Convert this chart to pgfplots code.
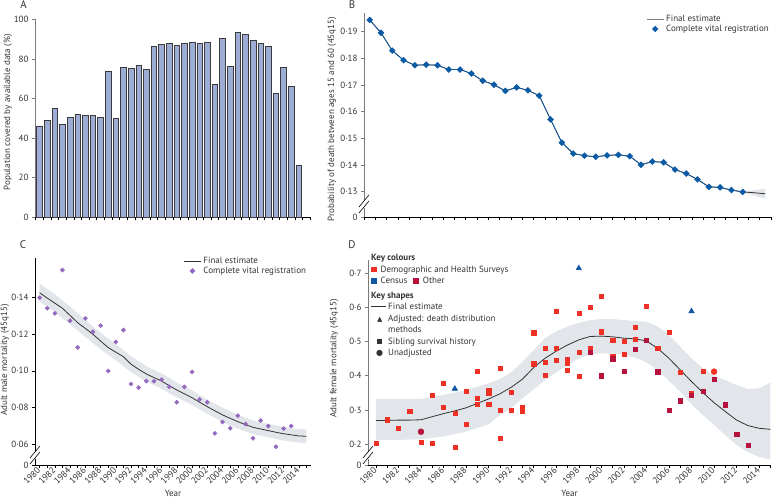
\documentclass[border=0pt]{standalone}
\usepackage{pgfplots}
\pgfplotsset{compat=1.18}
\usepackage{fontspec}
\setmainfont{PT Sans}
\newfontfamily\sym{DejaVu Sans}
\definecolor{barfill}{HTML}{9DADD6}
\definecolor{barline}{HTML}{3C3C3C}
\definecolor{vrblue}{HTML}{0B5AA6}
\definecolor{vrpurple}{HTML}{9468BE}
\definecolor{band}{HTML}{E2E6EB}
\definecolor{est}{HTML}{333333}
\definecolor{dhs}{HTML}{EE3124}
\definecolor{census}{HTML}{0F57A3}
\definecolor{other}{HTML}{B5123E}
\definecolor{axisgray}{HTML}{7A7A7A}
\definecolor{txt}{HTML}{333333}

\pgfplotsset{
  every axis/.append style={
    scale only axis,
    anchor=south west,
    axis x line*=bottom, axis y line*=left,
    tick align=outside,
    major tick length=3pt, minor tick length=3pt,
    tick style={line width=0.6pt, color=black},
    axis line style={line width=0.6pt},
    tick label style={font=\fontsize{9}{10}\selectfont, color=txt},
    label style={font=\fontsize{9}{10}\selectfont, color=txt},
    clip=false,
    /pgf/number format/assume math mode=true,
    /pgf/number format/1000 sep={},
  },
}
\newcommand\ybrk[1]{%
  \fill[white] ([xshift=-1.5pt,yshift=-4pt]#1) rectangle ([xshift=1.5pt,yshift=4pt]#1);
  \draw[line width=0.6pt] ([xshift=-5pt,yshift=-9pt]#1) -- ([xshift=5pt,yshift=3pt]#1);
  \draw[line width=0.6pt] ([xshift=-5pt,yshift=-3pt]#1) -- ([xshift=5pt,yshift=9pt]#1);
}
\newcommand\lsym[1]{\makebox[17pt][c]{#1}}

\begin{document}
\begin{tikzpicture}
\useasboundingbox (0,0) rectangle (772pt,499pt);

% ---------------- Panel A ----------------
\begin{axis}[at={(35pt,282pt)}, width=276pt, height=197.5pt,
  xmin=1979.4, xmax=2015.6, ymin=0, ymax=100,
  xtick={1979.5,1980.5,...,2015.5}, xticklabels={},
  ytick={0,20,40,60,80,100},
  y axis line style={color=axisgray}, ytick style={color=axisgray},
  ylabel={Population covered by available data (\%)},
  ylabel style={at={(axis description cs:-0.098,0.53)}, anchor=center},
]
\addplot[ybar, bar width=5.6pt, fill=barfill, draw=barline, line width=0.6pt] coordinates {
(1980,46.1)(1981,49.0)(1982,55.0)(1983,47.0)(1984,50.5)(1985,52.0)(1986,51.5)(1987,51.5)
(1988,50.5)(1989,73.6)(1990,50.0)(1991,75.6)(1992,75.3)(1993,76.8)(1994,74.7)(1995,86.2)
(1996,87.4)(1997,88.0)(1998,86.7)(1999,88.2)(2000,88.4)(2001,88.0)(2002,88.4)(2003,67.3)
(2004,90.4)(2005,76.3)(2006,93.4)(2007,92.3)(2008,89.4)(2009,87.9)(2010,86.2)(2011,62.6)
(2012,75.8)(2013,66.2)(2014,26.1)};
\end{axis}

% ---------------- Panel B ----------------
\begin{axis}[at={(364pt,282pt)}, width=407pt, height=204pt,
  xmin=1979.5, xmax=2015.5, ymin=0.1205, ymax=0.197,
  xtick={1979.5,1980.5,...,2015.5}, xticklabels={},
  ytick={0.1205,0.13,0.14,0.15,0.16,0.17,0.18,0.19},
  yticklabels={0,0·13,0·14,0·15,0·16,0·17,0·18,0·19},
  y axis line style={color=axisgray}, ytick style={color=axisgray},
  ylabel={Probability of death between ages 15 and 60 (45q15)},
  ylabel style={at={(axis description cs:-0.079,0.48)}, anchor=center},
  legend style={draw=none, fill=none, at={(1,1.0)}, anchor=north east,
    font=\fontsize{9}{10}\selectfont, text=txt, row sep=-2pt, inner sep=0pt},
  legend cell align=left,
]
\addplot[fill=band, draw=none, forget plot] coordinates {
(2012,0.1306)(2013,0.1301)(2014,0.1306)(2015,0.1311)(2015,0.1273)(2014,0.1286)(2013,0.1297)(2012,0.1306)} -- cycle;
\addplot[est, line width=0.8pt, forget plot] coordinates {
(1980,.1944)(1981,.1896)(1982,.1829)(1983,.1793)(1984,.1774)(1985,.1776)(1986,.1774)(1987,.1758)
(1988,.1758)(1989,.1743)(1990,.1716)(1991,.1701)(1992,.1678)(1993,.1691)(1994,.1680)(1995,.1660)
(1996,.1571)(1997,.1484)(1998,.1443)(1999,.1435)(2000,.1431)(2001,.1436)(2002,.1438)(2003,.1433)
(2004,.1401)(2005,.1413)(2006,.1410)(2007,.1383)(2008,.1368)(2009,.1346)(2010,.1318)(2011,.1316)
(2012,.1306)(2013,.1299)(2014,.1296)(2015,.1292)};
\addplot[vrblue, line width=0.7pt, mark=square*, mark size=2pt, mark options={rotate=45, fill=vrblue, draw=vrblue}, forget plot] coordinates {
(1980,.1944)(1981,.1896)(1982,.1829)(1983,.1793)(1984,.1774)(1985,.1776)(1986,.1774)(1987,.1758)
(1988,.1758)(1989,.1743)(1990,.1716)(1991,.1701)(1992,.1678)(1993,.1691)(1994,.1680)(1995,.1660)
(1996,.1571)(1997,.1484)(1998,.1443)(1999,.1435)(2000,.1431)(2001,.1436)(2002,.1438)(2003,.1433)
(2004,.1401)(2005,.1413)(2006,.1410)(2007,.1383)(2008,.1368)(2009,.1346)(2010,.1318)(2011,.1316)
(2012,.1306)(2013,.1299)};
\addlegendimage{axisgray, line width=0.9pt}
\addlegendentry{Final estimate}
\addlegendimage{only marks, mark=square*, mark size=2pt, mark options={rotate=45, fill=vrblue, draw=vrblue}}
\addlegendentry{Complete vital registration}
\coordinate (brkB) at (axis cs:1979.5,0.1254);
\end{axis}
\ybrk{brkB}

% ---------------- Panel C ----------------
\begin{axis}[at={(35pt,34pt)}, width=276pt, height=207pt,
  xmin=1979.4, xmax=2015.6, ymin=0.0485, ymax=0.1617,
  xtick={1980,1982,...,2014}, minor xtick={1981,1983,...,2015},
  xticklabel style={rotate=45, anchor=east, inner sep=1pt},
  ytick={0.0485,0.06,0.08,0.10,0.12,0.14},
  yticklabels={0,0·06,0·08,0·10,0·12,0·14},
  xlabel={Year},
  ylabel={Adult male mortality (45q15)},
  ylabel style={at={(axis description cs:-0.109,0.507)}, anchor=center},
  legend style={draw=none, fill=none, at={(0.99,1.015)}, anchor=north east,
    font=\fontsize{9}{10}\selectfont, text=txt, row sep=-2pt, inner sep=0pt},
  legend cell align=left,
]
\addplot[fill=band, draw=none, forget plot] coordinates {
(1980,.1477)(1982,.1419)(1984,.1351)(1986,.1278)(1988,.1208)(1990,.1146)(1992,.1079)(1994,.1025)
(1996,.0986)(1998,.0936)(2000,.0893)(2002,.0843)(2004,.0798)(2006,.0760)(2008,.0728)(2010,.0710)
(2012,.0693)(2014,.0681)(2015,.0679)
(2015,.0605)(2014,.0607)(2012,.0619)(2010,.0636)(2008,.0654)(2006,.0684)(2004,.0720)(2002,.0765)
(2000,.0813)(1998,.0854)(1996,.0902)(1994,.0941)(1992,.0993)(1990,.1058)(1988,.1118)(1986,.1186)
(1984,.1255)(1982,.1321)(1980,.1377)} -- cycle;
\addplot[est, line width=0.8pt, forget plot] coordinates {
(1980,.1427)(1981,.1398)(1982,.1370)(1983,.1342)(1984,.1303)(1985,.1263)(1986,.1232)(1987,.1200)
(1988,.1163)(1989,.1127)(1990,.1102)(1991,.1077)(1992,.1036)(1993,.1008)(1994,.0983)(1995,.0963)
(1996,.0944)(1997,.0919)(1998,.0895)(1999,.0874)(2000,.0853)(2001,.0828)(2002,.0804)(2003,.0781)
(2004,.0759)(2005,.0740)(2006,.0722)(2007,.0706)(2008,.0691)(2009,.0682)(2010,.0673)(2011,.0664)
(2012,.0656)(2013,.0650)(2014,.0644)(2015,.0642)};
\addplot[only marks, mark=square*, mark size=1.5pt, mark options={rotate=45, fill=vrpurple, draw=vrpurple}, forget plot] coordinates {
(1980,.1400)(1981,.1342)(1982,.1314)(1983,.1551)(1984,.1274)(1985,.1128)(1986,.1287)(1987,.1214)
(1988,.1247)(1989,.0999)(1990,.1158)(1991,.1223)(1992,.0928)(1993,.0908)(1994,.0944)(1995,.0943)
(1996,.0952)(1997,.0913)(1998,.0828)(1999,.0912)(2000,.0994)(2001,.0844)(2002,.0828)(2003,.0658)
(2004,.0720)(2005,.0686)(2006,.0755)(2007,.0709)(2008,.0631)(2009,.0728)(2010,.0698)(2011,.0585)
(2012,.0684)(2013,.0698)};
\addlegendimage{est, line width=0.9pt}
\addlegendentry{Final estimate}
\addlegendimage{only marks, mark=square*, mark size=1.8pt, mark options={rotate=45, fill=vrpurple, draw=vrpurple}}
\addlegendentry{Complete vital registration}
\coordinate (brkC) at (axis cs:1979.4,0.054);
\end{axis}
\ybrk{brkC}

% ---------------- Panel D ----------------
\begin{axis}[at={(368pt,34pt)}, width=403pt, height=205pt,
  xmin=1979.3, xmax=2015.05, ymin=0.1385, ymax=0.739,
  xtick={1980,1982,...,2014}, minor xtick={1981,1983,...,2015},
  xticklabel style={rotate=45, anchor=east, inner sep=1pt},
  ytick={0.1385,0.2,0.3,0.4,0.5,0.6,0.7},
  yticklabels={0,0·2,0·3,0·4,0·5,0·6,0·7},
  y axis line style={color=axisgray}, ytick style={color=axisgray},
  xlabel={Year},
  ylabel={Adult female mortality (45q15)},
  ylabel style={at={(axis description cs:-0.084,0.52)}, anchor=center},
]
\addplot[fill=band, draw=none] coordinates {
(1980,.332)(1982,.332)(1984,.332)(1986,.344)(1988,.358)(1990,.378)(1991,.390)(1992,.410)
(1993,.441)(1994,.475)(1995,.510)(1996,.530)(1997,.544)(1998,.555)(1999,.563)(2000,.566)
(2001,.566)(2002,.563)(2003,.560)(2004,.558)(2005,.544)(2006,.519)(2007,.485)(2008,.451)
(2009,.422)(2010,.400)(2011,.387)(2012,.373)(2013,.361)(2014,.363)(2015,.380)
(2015,.154)(2014,.162)(2013,.176)(2012,.197)(2011,.226)(2010,.256)(2009,.285)(2008,.316)
(2007,.353)(2006,.385)(2005,.417)(2004,.439)(2003,.453)(2002,.460)(2001,.465)(2000,.466)
(1999,.463)(1998,.450)(1997,.431)(1996,.410)(1995,.387)(1994,.360)(1993,.334)(1992,.305)
(1991,.285)(1990,.258)(1988,.236)(1986,.222)(1984,.214)(1982,.212)(1980,.212)} -- cycle;
\addplot[est, line width=0.8pt] coordinates {
(1980,.269)(1981,.269)(1982,.270)(1983,.270)(1984,.271)(1985,.280)(1986,.289)(1987,.297)
(1988,.306)(1989,.319)(1990,.332)(1991,.347)(1992,.366)(1993,.390)(1994,.424)(1995,.451)
(1996,.472)(1997,.490)(1998,.505)(1999,.515)(2000,.516)(2001,.514)(2002,.510)(2003,.508)
(2004,.502)(2005,.480)(2006,.451)(2007,.417)(2008,.383)(2009,.351)(2010,.321)(2011,.295)
(2012,.270)(2013,.254)(2014,.246)(2015,.243)};
% DHS, sibling survival history
\addplot[only marks, mark=square*, mark size=2.1pt, mark options={fill=dhs, draw=dhs}] coordinates {
(1980,.202)(1981,.271)(1982,.247)(1983,.296)(1984,.206)(1985,.202)(1985,.342)(1986,.377)
(1986,.307)(1987,.290)(1987,.190)(1988,.354)(1988,.258)(1989,.413)(1989,.335)(1989,.316)
(1990,.357)(1990,.350)(1990,.316)(1991,.422)(1991,.299)(1991,.216)(1992,.351)(1992,.298)
(1993,.307)(1993,.295)(1994,.526)(1994,.435)(1995,.480)(1995,.440)(1995,.402)(1996,.589)
(1996,.480)(1996,.445)(1997,.448)(1997,.438)(1997,.416)(1998,.583)(1998,.469)(1998,.398)
(1999,.601)(1999,.480)(2000,.632)(2000,.529)(2001,.504)(2001,.456)(2002,.502)(2002,.463)
(2003,.543)(2003,.506)(2004,.603)(2005,.481)(2006,.528)(2007,.410)(2008,.349)(2009,.414)};
% Other, sibling survival history
\addplot[only marks, mark=square*, mark size=2.1pt, mark options={fill=other, draw=other}] coordinates {
(1999,.468)(2000,.400)(2001,.450)(2002,.414)(2003,.478)(2004,.504)(2005,.412)(2006,.300)
(2007,.327)(2008,.343)(2009,.354)(2010,.390)(2011,.315)(2012,.229)(2013,.197)};
% Unadjusted
\addplot[only marks, mark=*, mark size=3pt, mark options={fill=other, draw=other}] coordinates {(1984,.236)};
\addplot[only marks, mark=*, mark size=3pt, mark options={fill=dhs, draw=dhs}] coordinates {(2010,.412)};
% Census, adjusted
\addplot[only marks, mark=triangle*, mark size=3.2pt, mark options={fill=census, draw=census}] coordinates {
(1987,.362)(1998,.715)(2008,.589)};
\coordinate (brkD) at (axis cs:1979.3,0.168);
\end{axis}
\ybrk{brkD}

\node[anchor=north west, align=left, inner sep=0pt, font=\fontsize{9}{11.5}\selectfont, text=txt] at (371pt,245pt) {%
\textbf{Key colours}\\
\textcolor{dhs}{\rule{5.5pt}{5.5pt}}\hspace{4pt}Demographic and Health Surveys\\
\textcolor{census}{\rule{5.5pt}{5.5pt}}\hspace{4pt}Census\hspace{6pt}\textcolor{other}{\rule{5.5pt}{5.5pt}}\hspace{4pt}Other\\[3pt]
\textbf{Key shapes}\\
\makebox[17pt][l]{\rule[2.6pt]{15pt}{0.6pt}}Final estimate\\
\lsym{\sym\fontsize{7}{8}\selectfont ▲}Adjusted: death distribution\\
\lsym{}methods\\
\lsym{\rule{5.5pt}{5.5pt}}Sibling survival history\\
\lsym{\sym\fontsize{8}{8}\selectfont ●}Unadjusted};

% panel letters
\node[font=\fontsize{11}{12}\selectfont, text=txt] at (23.5pt,494pt) {A};
\node[font=\fontsize{11}{12}\selectfont, text=txt] at (352pt,494pt) {B};
\node[font=\fontsize{11}{12}\selectfont, text=txt] at (23pt,254pt) {C};
\node[font=\fontsize{11}{12}\selectfont, text=txt] at (352pt,254pt) {D};
\end{tikzpicture}
\end{document}
